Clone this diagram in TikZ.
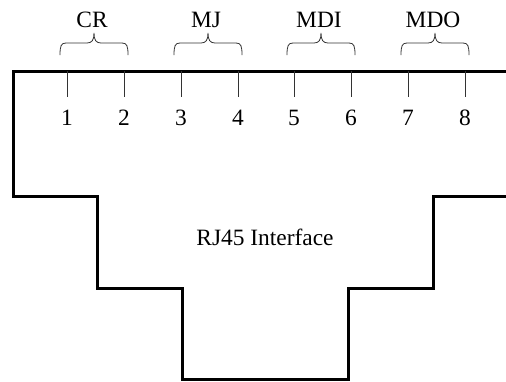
\documentclass[tikz,border=0pt]{standalone}
\usepackage{fontspec}
\setmainfont{Liberation Serif}
\begin{document}
\begin{tikzpicture}[x=1bp,y=-1bp,
  outline/.style={line width=3bp,line join=miter},
  tick/.style={line width=0.8bp,draw=black!80},
  bracestyle/.style={line width=0.8bp,draw=black!80},
  lab/.style={font=\fontsize{23.5}{26}\selectfont,inner sep=0pt,anchor=center},
]
\useasboundingbox (0,0) rectangle (506,381);
\draw[outline] (506,71) -- (13,71) -- (13,196) -- (97,196) -- (97,288) -- (182,288) -- (182,379) -- (348,379) -- (348,288) -- (433,288) -- (433,196) -- (506,196);
\foreach \n/\x in {1/67,2/124,3/181,4/238,5/294,6/351,7/408,8/465}{
  \coordinate (t\n) at (\x,71);
  \coordinate (b\n) at (\x,97);
  \draw[tick] (t\n) -- (b\n);
  \node[lab] (n\n) at (\x,118) {\n};
}
\foreach \name/\a/\b in {CR/67/124,MJ/181/238,MDI/294/351,MDO/408/465}{
  \pgfmathsetmacro{\xl}{\a-7}
  \pgfmathsetmacro{\xr}{\b+4}
  \pgfmathsetmacro{\xc}{(\a+\b)/2-1.5}
  \draw[bracestyle] (\xl,55) .. controls (\xl,46) and (\xl+1,43) .. (\xl+6,43)
     -- (\xc-7,43) .. controls (\xc-2,43) and (\xc,40) .. (\xc,33)
     .. controls (\xc,40) and (\xc+2,43) .. (\xc+7,43)
     -- (\xr-6,43) .. controls (\xr-1,43) and (\xr,46) .. (\xr,55);
  \node[lab] (l\name) at (\xc-2,20) {\name};
}
\node[lab] (title) at (265,237) {RJ45 Interface};
\end{tikzpicture}
\end{document}
